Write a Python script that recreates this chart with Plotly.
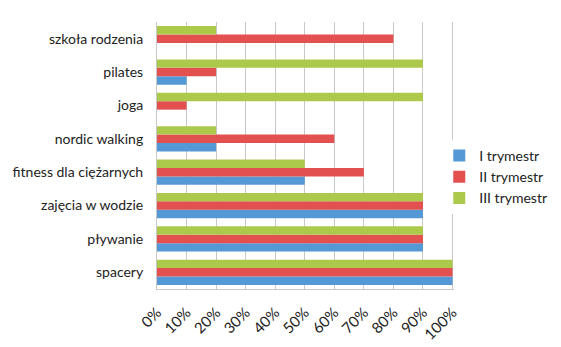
import plotly.graph_objects as go

categories = ["spacery", "pływanie", "zajęcia w wodzie", "fitness dla ciężarnych",
              "nordic walking", "joga", "pilates", "szkoła rodzenia"]
series_names = ["I trymestr", "II trymestr", "III trymestr"]
vals_I = [100, 90, 90, 50, 20, 0, 10, 0]
vals_II = [100, 90, 90, 70, 60, 10, 20, 80]
vals_III = [100, 90, 90, 50, 20, 90, 90, 20]
tick_vals = [0, 10, 20, 30, 40, 50, 60, 70, 80, 90, 100]
tick_text = ["0%", "10%", "20%", "30%", "40%", "50%", "60%", "70%", "80%", "90%", "100%"]
colors = ["#5499d6", "#e2504f", "#adc94c"]

fig = go.Figure()
for name, vals, col in zip(series_names, [vals_I, vals_II, vals_III], colors):
    fig.add_trace(go.Bar(y=categories, x=vals, name=name, orientation="h",
                         marker=dict(color=col, line=dict(width=0))))

fig.update_layout(
    width=561, height=347,
    margin=dict(l=157, r=107, t=22, b=58, autoexpand=False),
    barmode="group", bargap=0.24, bargroupgap=0,
    plot_bgcolor="white", paper_bgcolor="white",
    font=dict(family="Lato", size=14, color="#222222"),
    legend=dict(xref="container", yref="container", x=0.783, y=0.49,
                yanchor="middle", xanchor="left", tracegroupgap=0,
                font=dict(size=14), traceorder="normal", itemwidth=30),
    xaxis=dict(range=[0, 100.5], tickvals=tick_vals, ticktext=tick_text, tickangle=-45,
               tickfont=dict(size=15), ticks="outside", ticklen=8, tickcolor="rgba(0,0,0,0)",
               showgrid=True, gridcolor="#c8c8c8", gridwidth=1, zeroline=False,
               showline=True, linecolor="#c8c8c8", fixedrange=True),
    yaxis=dict(showgrid=False, showline=True, linecolor="#c8c8c8",
               ticklabelstandoff=10, fixedrange=True),
    showlegend=True,
)
fig.write_html("out.html")
